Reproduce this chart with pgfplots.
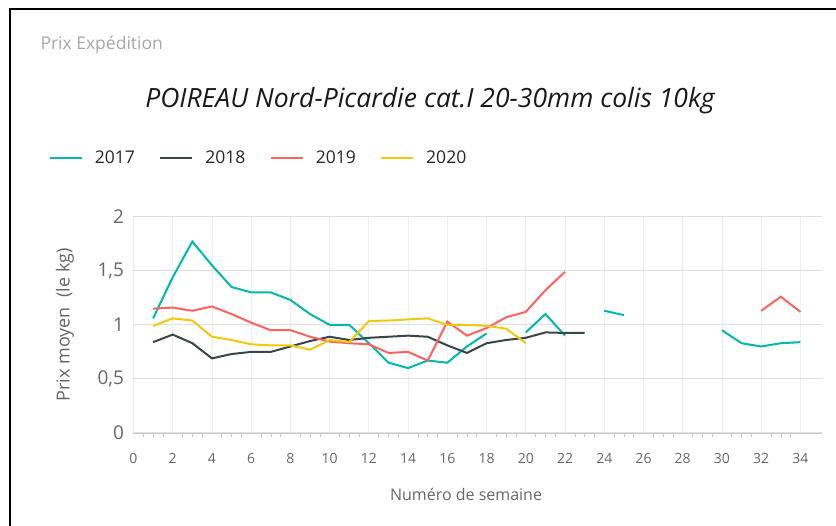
\documentclass[border=0pt]{standalone}
\usepackage{fontspec}
\setmainfont{Open Sans}
\usepackage{pgfplots}
\pgfplotsset{compat=1.18}

\definecolor{c2017}{HTML}{01B8AA}
\definecolor{c2018}{HTML}{374649}
\definecolor{c2019}{HTML}{FD625E}
\definecolor{c2020}{HTML}{F2C80F}
\definecolor{txtgray}{HTML}{666666}
\definecolor{lightgray}{HTML}{A6A6A6}

\begin{document}
\begin{tikzpicture}[x=1pt,y=1pt]
\useasboundingbox (0,0) rectangle (836,526);
% frame of the visual
\draw[line width=2pt] (10,0) -- (10,517) -- (836,517);
\node[anchor=west, text=lightgray, font=\fontsize{17.5}{20}\selectfont] at (37,481) {Prix Expédition};
\node[font=\fontsize{26.5}{30}\selectfont\itshape, text=black!90] at (430,425) {POIREAU Nord-Picardie cat.I 20-30mm colis 10kg};

\begin{axis}[
    at={(133.5pt,93pt)}, anchor=south west,
    scale only axis,
    width=688.5pt, height=216.3pt,
    xmin=0, xmax=35.1,
    ymin=0, ymax=2,
    xtick={0,2,...,34},
    ytick={0,0.5,...,2},
    minor x tick num=3,
    axis lines*=left,
    separate axis lines,
    x axis line style={draw=gray!40, line width=0.8pt},
    y axis line style={draw=none},
    tick align=outside,
    xtick style={draw=gray!45, line width=0.6pt},
    major tick length=0pt,
    minor tick length=4pt,
    ytick style={draw=none},
    grid=major,
    x grid style={draw=gray!12, line width=0.8pt},
    y grid style={draw=gray!25, line width=1pt},
    unbounded coords=jump,
    /pgf/number format/assume math mode=true,
    /pgf/number format/use comma,
    yticklabel style={font=\fontsize{19}{22}\selectfont, text=txtgray, xshift=-6pt},
    xticklabel style={font=\fontsize{14}{16}\selectfont, text=txtgray, yshift=-17pt},
    xlabel={Numéro de semaine},
    ylabel={Prix moyen\ \ (le kg)},
    xlabel style={at={(axis description cs:0.483,-0.282)}, anchor=center, font=\fontsize{16}{19}\selectfont, text=txtgray},
    ylabel style={at={(axis description cs:-0.0995,0.5)}, anchor=center, font=\fontsize{18}{21}\selectfont, text=txtgray},
    legend columns=4,
    legend image code/.code={\draw[#1, line width=2.4pt] (0pt,0pt) -- (32pt,0pt);},
    legend style={draw=none, fill=none, at={(-0.128,1.271)}, anchor=west,
        font=\fontsize{17.5}{20}\selectfont, text=black!85,
        /tikz/every odd column/.append style={column sep=10pt},
        /tikz/every even column/.append style={column sep=22pt}},
    every axis plot/.append style={line width=2pt, no markers},
]
\addplot[c2017] coordinates {
(1,1.06) (2,1.44) (3,1.77) (4,1.55) (5,1.35) (6,1.30) (7,1.30) (8,1.23) (9,1.10) (10,1.00)
(11,1.00) (12,0.83) (13,0.65) (14,0.60) (15,0.67) (16,0.65) (17,0.80) (18,0.92) (19,nan)
(20,0.93) (21,1.10) (22,0.90) (23,nan) (24,1.13) (25,1.09) (26,nan)
(30,0.95) (31,0.83) (32,0.80) (33,0.83) (34,0.84)};
\addplot[c2018] coordinates {
(1,0.84) (2,0.91) (3,0.83) (4,0.69) (5,0.73) (6,0.75) (7,0.75) (8,0.80) (9,0.85) (10,0.89)
(11,0.86) (12,0.88) (13,0.89) (14,0.90) (15,0.89) (16,0.81) (17,0.74) (18,0.83) (19,0.86)
(20,0.88) (21,0.93) (22,0.925) (23,0.925)};
\addplot[c2019] coordinates {
(1,1.15) (2,1.16) (3,1.13) (4,1.17) (5,1.10) (6,1.02) (7,0.95) (8,0.95) (9,0.89) (10,0.845)
(11,0.83) (12,0.82) (13,0.74) (14,0.75) (15,0.67) (16,1.03) (17,0.90) (18,0.97) (19,1.07)
(20,1.12) (21,1.32) (22,1.49) (23,nan) (32,1.13) (33,1.26) (34,1.12)};
\addplot[c2020] coordinates {
(1,0.99) (2,1.06) (3,1.04) (4,0.89) (5,0.86) (6,0.82) (7,0.81) (8,0.81) (9,0.77) (10,0.86)
(11,0.84) (12,1.035) (13,1.04) (14,1.05) (15,1.06) (16,1.00) (17,1.00) (18,0.99) (19,0.965)
(20,0.83)};
\legend{2017,2018,2019,2020}
\end{axis}
\end{tikzpicture}
\end{document}
